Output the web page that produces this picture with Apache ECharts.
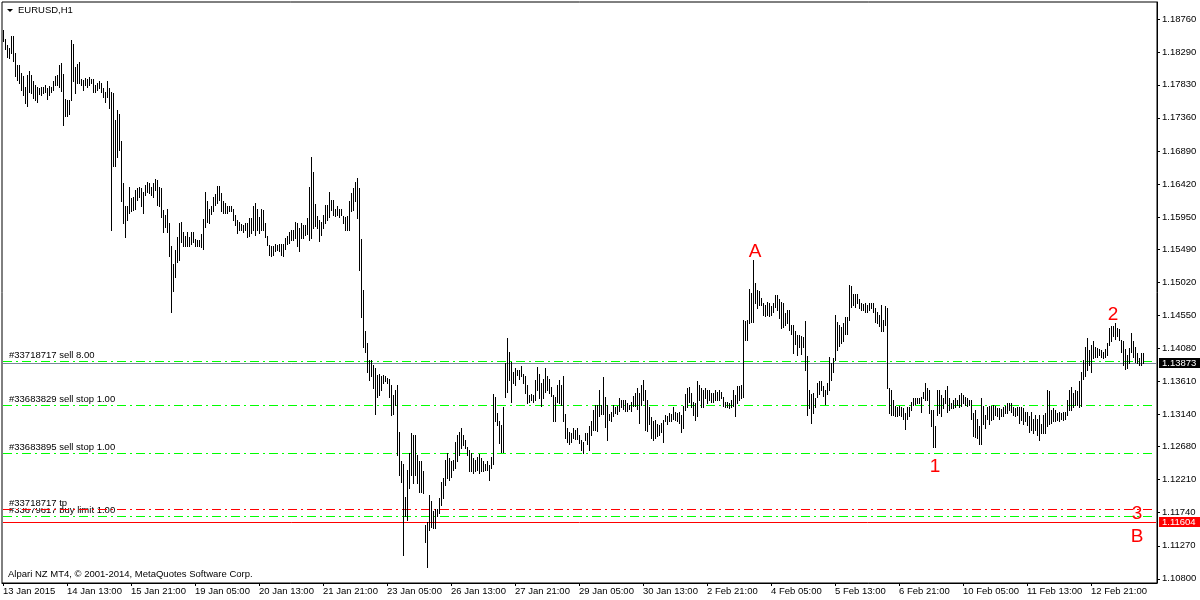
<!DOCTYPE html>
<html><head><meta charset="utf-8">
<script src="https://cdn.jsdelivr.net/npm/echarts@6/dist/echarts.min.js"></script>
<style>html,body{margin:0;padding:0;background:#fff}#c{width:1200px;height:600px}</style>
</head><body><div id="c"></div>
<script>
const symbolTitle = 'EURUSD,H1';
const copyrightText = 'Alpari NZ MT4, \u00a9 2001-2014, MetaQuotes Software Corp.';
const timeLabels = ['13 Jan 2015','14 Jan 13:00','15 Jan 21:00','19 Jan 05:00','20 Jan 13:00','21 Jan 21:00','23 Jan 05:00','26 Jan 13:00','27 Jan 21:00','29 Jan 05:00','30 Jan 13:00','2 Feb 21:00','4 Feb 05:00','5 Feb 13:00','6 Feb 21:00','10 Feb 05:00','11 Feb 13:00','12 Feb 21:00'];
const timeLabelIndex = [0,32,64,96,128,160,192,224,256,288,320,352,384,416,448,480,512,544];
const priceTicks = [1.18760,1.18290,1.17830,1.17360,1.16890,1.16420,1.15950,1.15490,1.15020,1.14550,1.14080,1.13610,1.13140,1.12680,1.12210,1.11740,1.11270,1.10800];
const priceMin = 1.10740, priceMax = 1.19009;

const highs = [
1.1861,1.1848,1.1840,1.1835,1.1853,1.1852,1.1828,1.1811,1.1811,1.1800,
1.1795,1.1780,1.1797,1.1802,1.1797,1.1789,1.1783,1.1780,1.1778,1.1780,
1.1780,1.1783,1.1778,1.1781,1.1780,1.1788,1.1795,1.1797,1.1811,1.1814,
1.1799,1.1763,1.1761,1.1761,1.1847,1.1841,1.1809,1.1812,1.1815,1.1792,
1.1790,1.1793,1.1791,1.1794,1.1792,1.1791,1.1783,1.1785,1.1789,1.1786,
1.1778,1.1773,1.1788,1.1778,1.1773,1.1772,1.1733,1.1747,1.1741,1.1703,
1.1644,1.1610,1.1611,1.1637,1.1622,1.1623,1.1634,1.1636,1.1638,1.1636,
1.1631,1.1641,1.1645,1.1643,1.1638,1.1643,1.1649,1.1648,1.1638,1.1636,
1.1605,1.1598,1.1607,1.1586,1.1553,1.1528,1.1548,1.1567,1.1586,1.1588,
1.1574,1.1568,1.1574,1.1567,1.1574,1.1573,1.1563,1.1562,1.1562,1.1571,
1.1592,1.1630,1.1617,1.1607,1.1611,1.1623,1.1627,1.1639,1.1639,1.1629,
1.1617,1.1615,1.1611,1.1611,1.1610,1.1606,1.1598,1.1591,1.1588,1.1585,
1.1584,1.1586,1.1586,1.1593,1.1593,1.1610,1.1615,1.1606,1.1595,1.1606,
1.1605,1.1586,1.1568,1.1555,1.1554,1.1553,1.1557,1.1555,1.1557,1.1557,
1.1557,1.1565,1.1568,1.1573,1.1576,1.1577,1.1588,1.1586,1.1579,1.1587,
1.1584,1.1584,1.1593,1.1638,1.1680,1.1659,1.1614,1.1596,1.1591,1.1588,
1.1598,1.1612,1.1612,1.1630,1.1619,1.1619,1.1607,1.1610,1.1606,1.1607,
1.1596,1.1595,1.1596,1.1617,1.1629,1.1636,1.1645,1.1650,1.1636,1.1563,
1.1491,1.1432,1.1415,1.1391,1.1391,1.1384,1.1380,1.1370,1.1372,1.1368,
1.1370,1.1368,1.1366,1.1365,1.1356,1.1342,1.1349,1.1356,1.1289,1.1247,
1.1244,1.1197,1.1235,1.1259,1.1287,1.1285,1.1285,1.1256,1.1247,1.1247,
1.1233,1.1157,1.1161,1.1199,1.1190,1.1176,1.1180,1.1180,1.1195,1.1218,
1.1223,1.1249,1.1259,1.1252,1.1247,1.1249,1.1275,1.1285,1.1289,1.1294,
1.1285,1.1278,1.1268,1.1263,1.1259,1.1252,1.1249,1.1254,1.1258,1.1252,
1.1247,1.1244,1.1247,1.1242,1.1254,1.1343,1.1339,1.1316,1.1304,1.1299,
1.1325,1.1387,1.1422,1.1403,1.1389,1.1375,1.1380,1.1377,1.1377,1.1383,
1.1371,1.1368,1.1356,1.1342,1.1343,1.1342,1.1363,1.1381,1.1372,1.1358,
1.1365,1.1380,1.1368,1.1365,1.1353,1.1342,1.1339,1.1356,1.1363,1.1356,
1.1369,1.1315,1.1294,1.1289,1.1288,1.1294,1.1292,1.1294,1.1285,1.1277,
1.1275,1.1287,1.1288,1.1297,1.1304,1.1320,1.1327,1.1327,1.1349,1.1327,
1.1367,1.1339,1.1327,1.1315,1.1318,1.1327,1.1325,1.1326,1.1337,1.1335,
1.1334,1.1334,1.1330,1.1327,1.1331,1.1340,1.1344,1.1351,1.1345,1.1356,
1.1363,1.1349,1.1334,1.1325,1.1310,1.1304,1.1306,1.1301,1.1299,1.1302,
1.1306,1.1313,1.1311,1.1316,1.1315,1.1324,1.1318,1.1316,1.1318,1.1313,
1.1326,1.1343,1.1351,1.1353,1.1344,1.1332,1.1330,1.1361,1.1356,1.1351,
1.1349,1.1351,1.1348,1.1349,1.1345,1.1345,1.1348,1.1346,1.1349,1.1346,
1.1339,1.1332,1.1332,1.1330,1.1334,1.1348,1.1342,1.1354,1.1354,1.1356,
1.1448,1.1447,1.1448,1.1492,1.1487,1.1534,1.1501,1.1491,1.1489,1.1479,
1.1472,1.1470,1.1474,1.1472,1.1468,1.1472,1.1484,1.1484,1.1478,1.1474,
1.1472,1.1458,1.1463,1.1462,1.1441,1.1441,1.1433,1.1427,1.1427,1.1426,
1.1424,1.1447,1.1397,1.1349,1.1343,1.1345,1.1337,1.1358,1.1361,1.1361,
1.1354,1.1349,1.1358,1.1395,1.1387,1.1394,1.1456,1.1446,1.1441,1.1438,
1.1444,1.1452,1.1452,1.1498,1.1496,1.1486,1.1485,1.1486,1.1478,1.1473,
1.1471,1.1472,1.1470,1.1473,1.1473,1.1472,1.1465,1.1460,1.1456,1.1470,
1.1448,1.1468,1.1465,1.1351,1.1349,1.1335,1.1326,1.1325,1.1326,1.1325,
1.1323,1.1316,1.1325,1.1325,1.1332,1.1338,1.1338,1.1338,1.1337,1.1339,
1.1346,1.1358,1.1351,1.1348,1.1320,1.1320,1.1297,1.1349,1.1348,1.1342,
1.1337,1.1349,1.1354,1.1337,1.1330,1.1335,1.1337,1.1335,1.1342,1.1344,
1.1342,1.1339,1.1337,1.1335,1.1335,1.1316,1.1320,1.1308,1.1297,1.1337,
1.1326,1.1313,1.1325,1.1326,1.1326,1.1327,1.1326,1.1323,1.1323,1.1321,
1.1325,1.1326,1.1330,1.1330,1.1330,1.1325,1.1323,1.1324,1.1325,1.1324,
1.1323,1.1317,1.1318,1.1312,1.1318,1.1308,1.1313,1.1307,1.1313,1.1301,
1.1313,1.1316,1.1349,1.1347,1.1320,1.1323,1.1320,1.1316,1.1318,1.1316,
1.1317,1.1318,1.1335,1.1349,1.1353,1.1344,1.1349,1.1347,1.1361,1.1375,
1.1391,1.1410,1.1422,1.1406,1.1413,1.1418,1.1410,1.1408,1.1407,1.1406,
1.1403,1.1407,1.1415,1.1437,1.1440,1.1440,1.1444,1.1437,1.1435,1.1420,
1.1419,1.1407,1.1399,1.1408,1.1430,1.1418,1.1410,1.1401,1.1394,1.1402,1.1401
];
const lows = [
1.1845,1.1834,1.1823,1.1821,1.1829,1.1817,1.1795,1.1790,1.1785,1.1776,
1.1769,1.1757,1.1753,1.1773,1.1772,1.1764,1.1761,1.1759,1.1770,1.1769,
1.1772,1.1773,1.1763,1.1769,1.1773,1.1775,1.1783,1.1783,1.1780,1.1774,
1.1726,1.1738,1.1738,1.1742,1.1761,1.1788,1.1772,1.1785,1.1786,1.1783,
1.1776,1.1783,1.1780,1.1783,1.1785,1.1773,1.1773,1.1776,1.1778,1.1773,
1.1766,1.1759,1.1766,1.1750,1.1576,1.1667,1.1667,1.1681,1.1690,1.1617,
1.1586,1.1567,1.1591,1.1600,1.1603,1.1605,1.1607,1.1619,1.1624,1.1610,
1.1600,1.1626,1.1631,1.1629,1.1626,1.1624,1.1633,1.1612,1.1610,1.1595,
1.1574,1.1581,1.1574,1.1539,1.1459,1.1489,1.1510,1.1531,1.1534,1.1560,
1.1553,1.1553,1.1553,1.1554,1.1557,1.1560,1.1553,1.1553,1.1553,1.1552,
1.1550,1.1581,1.1588,1.1586,1.1599,1.1603,1.1612,1.1615,1.1619,1.1603,
1.1601,1.1601,1.1600,1.1604,1.1603,1.1590,1.1584,1.1572,1.1577,1.1576,
1.1574,1.1576,1.1567,1.1568,1.1572,1.1576,1.1569,1.1576,1.1572,1.1577,
1.1576,1.1567,1.1555,1.1541,1.1539,1.1541,1.1546,1.1548,1.1546,1.1541,
1.1539,1.1550,1.1557,1.1558,1.1562,1.1562,1.1565,1.1553,1.1546,1.1565,
1.1565,1.1569,1.1571,1.1562,1.1565,1.1579,1.1582,1.1579,1.1561,1.1569,
1.1579,1.1586,1.1591,1.1595,1.1605,1.1598,1.1596,1.1598,1.1595,1.1598,
1.1586,1.1577,1.1576,1.1577,1.1603,1.1605,1.1617,1.1593,1.1520,1.1452,
1.1410,1.1403,1.1375,1.1363,1.1368,1.1351,1.1315,1.1339,1.1342,1.1349,
1.1358,1.1361,1.1358,1.1339,1.1313,1.1315,1.1327,1.1256,1.1228,1.1218,
1.1114,1.1169,1.1164,1.1209,1.1228,1.1216,1.1228,1.1216,1.1204,1.1204,
1.1202,1.1133,1.1097,1.1150,1.1154,1.1152,1.1152,1.1169,1.1173,1.1185,
1.1195,1.1214,1.1223,1.1221,1.1225,1.1235,1.1237,1.1247,1.1256,1.1266,
1.1270,1.1266,1.1256,1.1233,1.1233,1.1230,1.1233,1.1235,1.1230,1.1233,
1.1234,1.1235,1.1235,1.1221,1.1237,1.1244,1.1304,1.1299,1.1273,1.1261,
1.1261,1.1339,1.1346,1.1363,1.1332,1.1358,1.1356,1.1370,1.1365,1.1369,
1.1358,1.1345,1.1330,1.1331,1.1334,1.1332,1.1334,1.1349,1.1337,1.1326,
1.1337,1.1346,1.1349,1.1344,1.1340,1.1305,1.1305,1.1331,1.1330,1.1327,
1.1304,1.1281,1.1275,1.1272,1.1274,1.1280,1.1279,1.1279,1.1273,1.1263,
1.1259,1.1277,1.1272,1.1264,1.1285,1.1292,1.1292,1.1291,1.1311,1.1315,
1.1315,1.1296,1.1277,1.1306,1.1305,1.1312,1.1316,1.1315,1.1319,1.1324,
1.1321,1.1319,1.1319,1.1321,1.1319,1.1326,1.1326,1.1321,1.1302,1.1327,
1.1334,1.1292,1.1291,1.1301,1.1280,1.1278,1.1281,1.1283,1.1285,1.1289,
1.1275,1.1304,1.1300,1.1304,1.1305,1.1308,1.1306,1.1305,1.1302,1.1289,
1.1294,1.1320,1.1324,1.1332,1.1324,1.1313,1.1306,1.1311,1.1335,1.1324,
1.1325,1.1337,1.1330,1.1334,1.1332,1.1332,1.1334,1.1334,1.1335,1.1338,
1.1326,1.1324,1.1324,1.1323,1.1324,1.1326,1.1311,1.1330,1.1334,1.1337,
1.1339,1.1420,1.1420,1.1444,1.1446,1.1446,1.1472,1.1465,1.1470,1.1470,
1.1456,1.1454,1.1456,1.1454,1.1456,1.1460,1.1467,1.1463,1.1451,1.1437,
1.1438,1.1441,1.1444,1.1434,1.1428,1.1401,1.1414,1.1399,1.1410,1.1400,
1.1410,1.1377,1.1313,1.1323,1.1302,1.1316,1.1325,1.1339,1.1343,1.1349,
1.1340,1.1329,1.1343,1.1349,1.1363,1.1375,1.1391,1.1406,1.1411,1.1415,
1.1419,1.1429,1.1429,1.1448,1.1467,1.1470,1.1467,1.1472,1.1465,1.1462,
1.1462,1.1460,1.1460,1.1462,1.1465,1.1460,1.1446,1.1444,1.1440,1.1432,
1.1432,1.1441,1.1351,1.1316,1.1313,1.1313,1.1312,1.1312,1.1313,1.1312,
1.1308,1.1293,1.1308,1.1312,1.1320,1.1327,1.1329,1.1330,1.1330,1.1318,
1.1337,1.1335,1.1335,1.1316,1.1297,1.1268,1.1268,1.1313,1.1316,1.1311,
1.1323,1.1330,1.1318,1.1320,1.1323,1.1323,1.1325,1.1327,1.1325,1.1326,
1.1330,1.1327,1.1326,1.1327,1.1308,1.1283,1.1282,1.1280,1.1272,1.1272,
1.1301,1.1294,1.1307,1.1301,1.1306,1.1308,1.1313,1.1311,1.1308,1.1311,
1.1312,1.1316,1.1316,1.1320,1.1318,1.1313,1.1312,1.1313,1.1302,1.1306,
1.1300,1.1304,1.1299,1.1289,1.1292,1.1287,1.1292,1.1285,1.1278,1.1288,
1.1287,1.1288,1.1297,1.1301,1.1302,1.1304,1.1304,1.1306,1.1305,1.1307,
1.1306,1.1308,1.1313,1.1320,1.1320,1.1325,1.1327,1.1327,1.1325,1.1326,
1.1365,1.1368,1.1377,1.1384,1.1375,1.1394,1.1396,1.1396,1.1399,1.1395,
1.1394,1.1396,1.1399,1.1413,1.1418,1.1426,1.1421,1.1425,1.1420,1.1403,
1.1384,1.1378,1.1380,1.1387,1.1403,1.1396,1.1389,1.1387,1.1384,1.1384,1.1387
];

const orderNames  = ['#33718717 sell 8.00','#33683829 sell stop 1.00','#33683895 sell stop 1.00','#33679617 buy limit 1.00','#33718717 tp'];
const orderPrices = [1.13904, 1.13269, 1.12586, 1.11690, 1.11789];
const orderColors = ['#00ff00','#00ff00','#00ff00','#00ff00','#ff0000'];
const bidPrice = 1.13873;
const hLinePrice = 1.11604;
const annoTexts  = ['A','1','2','3','B'];
const annoIndex  = [376, 466, 555, 567, 567];
const annoPrices = [1.15461, 1.12401, 1.14554, 1.11722, 1.11397];

const FONT = '"Liberation Sans", Arial, sans-serif';
const barData = highs.map((h, i) => [i, h, lows[i]]);

const chart = echarts.init(document.getElementById('c'), null, {renderer: 'canvas'});
chart.setOption({
  animation: false,
  backgroundColor: '#ffffff',
  grid: {left: 2, top: 2, right: 43, bottom: 17, show: true, borderColor: '#000', borderWidth: 1, backgroundColor: '#fff'},
  xAxis: {
    type: 'value', min: -0.5, max: 577, position: 'bottom',
    axisLine: {show: true, onZero: false, lineStyle: {color: '#000', width: 1}},
    axisTick: {show: true, length: 3, customValues: timeLabelIndex, lineStyle: {color: '#000'}},
    axisLabel: {show: true, customValues: timeLabelIndex, align: 'left', margin: 3,
      color: '#000', fontFamily: FONT, fontSize: 9.5,
      formatter: v => timeLabels[timeLabelIndex.indexOf(Math.round(v))] || ''},
    splitLine: {show: false}
  },
  yAxis: {
    type: 'value', position: 'right', min: priceMin, max: priceMax, scale: true,
    axisLine: {show: true, onZero: false, lineStyle: {color: '#000', width: 1}},
    axisTick: {show: true, length: 3, customValues: priceTicks, lineStyle: {color: '#000'}},
    axisLabel: {show: true, customValues: priceTicks, margin: 5, color: '#000', fontFamily: FONT, fontSize: 9.5,
      formatter: v => v.toFixed(5)},
    splitLine: {show: false}
  },
  graphic: [
    {type: 'polygon', shape: {points: [[7, 9], [13, 9], [10, 12]]}, style: {fill: '#000'}},
    {type: 'text', left: 18, top: 5, style: {text: symbolTitle, fill: '#000', font: '9.5px ' + FONT}},
    {type: 'text', left: 8, top: 569, style: {text: copyrightText, fill: '#000', font: '9.5px ' + FONT}}
  ],
  series: [
    { // order labels (text under lines)
      type: 'custom', z: 3, silent: true,
      data: orderPrices.map((p, i) => [p, i]),
      renderItem: (params, api) => {
        const i = params.dataIndex;
        const cs = params.coordSys;
        const y = Math.round(api.coord([0, api.value(0)])[1]);
        const isTp = orderNames[i].endsWith('tp');
        return {type: 'text', style: {text: orderNames[i], x: cs.x + 7, y: y - 1,
          textVerticalAlign: 'bottom', fill: '#000', font: '9.5px ' + FONT,
          backgroundColor: isTp ? '#fff' : null}};
      }
    },
    { // horizontal order/price lines
      type: 'custom', z: 4, silent: true,
      data: orderPrices.map((p, i) => [p, i]).concat([[bidPrice, 100], [hLinePrice, 101]]),
      renderItem: (params, api) => {
        const idx = api.value(1);
        const cs = params.coordSys;
        const y = Math.round(api.coord([0, api.value(0)])[1]) + 0.5;
        let stroke, dash;
        if (idx === 100) { stroke = '#778899'; dash = null; }
        else if (idx === 101) { stroke = '#ff0000'; dash = null; }
        else { stroke = orderColors[idx]; dash = [9, 4, 2, 4]; }
        return {type: 'line', shape: {x1: cs.x + 1, y1: y, x2: cs.x + cs.width - 1, y2: y},
          style: {stroke: stroke, lineWidth: 1, lineDash: dash}};
      }
    },
    { // price bars
      type: 'custom', z: 5, silent: true,
      data: barData,
      renderItem: (params, api) => {
        const pH = api.coord([api.value(0), api.value(1)]);
        const pL = api.coord([api.value(0), api.value(2)]);
        const x = Math.round(pH[0]);
        const top = Math.round(pH[1]);
        const bot = Math.round(pL[1]);
        return {type: 'rect', shape: {x: x, y: top, width: 1, height: Math.max(1, bot - top + 1)}, style: {fill: '#000'}};
      }
    },
    { // price tags on the right axis
      type: 'custom', z: 6, silent: true, clip: false,
      data: [[bidPrice, 0], [hLinePrice, 1]],
      renderItem: (params, api) => {
        const cs = params.coordSys;
        const p = api.value(0);
        const y = Math.round(api.coord([0, p])[1]);
        const bg = api.value(1) === 0 ? '#000' : '#ff0000';
        return {type: 'group', children: [
          {type: 'rect', shape: {x: cs.x + cs.width + 2, y: y - 5, width: 42, height: 10}, style: {fill: bg}},
          {type: 'text', style: {text: p.toFixed(5), x: cs.x + cs.width + 5, y: y, textVerticalAlign: 'middle', fill: '#fff', font: '9.5px ' + FONT}}
        ]};
      }
    },
    { // red annotations
      type: 'custom', z: 7, silent: true, clip: false,
      data: annoTexts.map((t, i) => [annoIndex[i], annoPrices[i]]),
      renderItem: (params, api) => {
        const pt = api.coord([api.value(0), api.value(1)]);
        return {type: 'text', style: {text: annoTexts[params.dataIndex], x: pt[0], y: pt[1],
          textAlign: 'center', textVerticalAlign: 'middle', fill: '#ff0000', font: '19px ' + FONT}};
      }
    }
  ]
});
</script>
</body></html>
